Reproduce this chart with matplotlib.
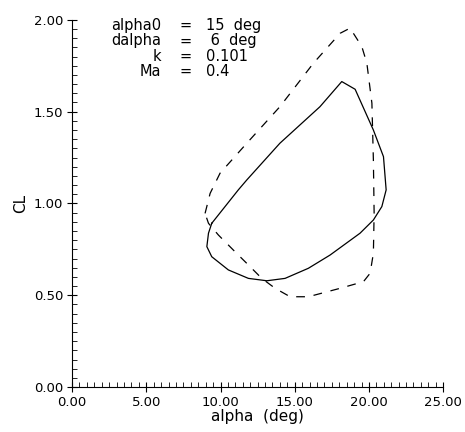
import matplotlib
matplotlib.use("Agg")
from matplotlib import pyplot as plt
from matplotlib.ticker import MultipleLocator

# 实线 (solid loop)
a_solid = [9.41, 11.2, 11.77, 14.0, 16.7, 18.17, 19.07, 20.3, 20.98, 21.16, 20.87, 20.3,
           19.4, 17.38, 15.92, 14.35, 13.12, 11.88, 10.53, 9.41, 9.08, 9.19, 9.41]
cl_solid = [0.892, 1.074, 1.128, 1.328, 1.527, 1.664, 1.622, 1.40, 1.255, 1.074, 0.983, 0.91,
            0.838, 0.719, 0.647, 0.592, 0.579, 0.592, 0.638, 0.71, 0.765, 0.838, 0.892]
# 虚线 (dashed loop)
a_dash = [8.96, 9.3, 9.97, 11.77, 14.0, 16.26, 18.06, 18.73, 19.52, 19.86, 20.2, 20.3,
          20.35, 20.3, 20.08, 19.63, 18.06, 15.92, 14.69, 13.68, 12.78, 11.88, 10.98, 9.86,
          9.19, 8.96]
cl_dash = [0.946, 1.055, 1.165, 1.328, 1.527, 1.764, 1.927, 1.955, 1.855, 1.764, 1.546, 1.237,
           0.947, 0.729, 0.62, 0.574, 0.538, 0.492, 0.492, 0.538, 0.592, 0.665, 0.737, 0.828,
           0.892, 0.946]

xticks = [0, 5, 10, 15, 20, 25]
yticks = [0, 0.5, 1.0, 1.5, 2.0]

fig = plt.figure(figsize=(4.65, 4.32), dpi=100)
ax = fig.add_axes([0.155, 0.104, 0.798, 0.85])

ax.plot(a_solid, cl_solid, color="black", linewidth=0.9)
ax.plot(a_dash, cl_dash, color="black", linewidth=0.9, linestyle=(0, (7, 7)))

ax.set_xlim(0, 25)
ax.set_ylim(0, 2)
ax.set_xticks(xticks)
ax.set_xticklabels(["%.2f" % v for v in xticks])
ax.set_yticks(yticks)
ax.set_yticklabels(["%.2f" % v for v in yticks])
ax.xaxis.set_minor_locator(MultipleLocator(0.5))
ax.yaxis.set_minor_locator(MultipleLocator(0.05))
ax.tick_params(which="major", direction="inout", length=7, width=0.8, labelsize=9.5, pad=3)
ax.tick_params(which="minor", direction="in", length=3.5, width=0.6)
ax.spines["top"].set_visible(False)
ax.spines["right"].set_visible(False)
ax.spines["left"].set_linewidth(0.8)
ax.spines["bottom"].set_linewidth(0.8)

ax.set_xlabel("alpha  (deg)", fontsize=11, labelpad=0)
ax.set_ylabel("CL", fontsize=11, labelpad=4)

# 参数说明
names = ["alpha0", "dalpha", "k", "Ma"]
vals = ["15  deg", " 6  deg", "0.101", "0.4"]
for i, (n, v) in enumerate(zip(names, vals)):
    y = 0.985 - i * 0.042
    ax.text(0.24, y, n, transform=ax.transAxes, ha="right", va="center", fontsize=10.5)
    ax.text(0.305, y, "=", transform=ax.transAxes, ha="center", va="center", fontsize=10.5)
    ax.text(0.36, y, v, transform=ax.transAxes, ha="left", va="center", fontsize=10.5)

fig.savefig("out.png", dpi=100)
